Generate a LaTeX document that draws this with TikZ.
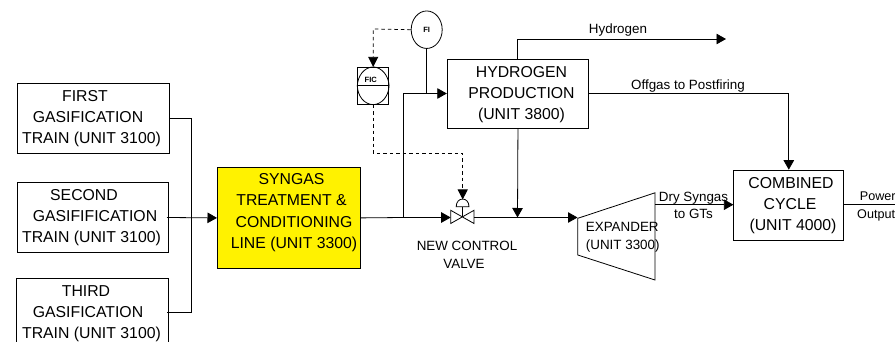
\documentclass[tikz,border=0pt]{standalone}
\usepackage{fontspec}
\setmainfont{Liberation Sans}
\usetikzlibrary{arrows.meta,shapes.geometric}
\newcommand\gapx[1]{\mbox{\kern#1pt}}
\tikzset{
  x=1pt,y=-1pt,
  ln/.style={draw=black,line width=0.8pt},
  flow/.style={ln,-{Triangle[length=9.5pt,width=10.5pt]}},
  ctl/.style={draw=black,line width=0.8pt,dash pattern=on 3.5pt off 3pt,-{Triangle[length=10pt,width=10pt]}},
  unitbox/.style={draw=black,line width=0.8pt,anchor=north west,inner sep=0pt},
  lbl/.style={font=\fontsize{15.8}{21.3}\selectfont,align=center,inner sep=0pt},
  small/.style={font=\fontsize{13.4}{17.6}\selectfont,align=center,inner sep=0pt},
  tiny/.style={font=\bfseries\fontsize{7.6}{8}\selectfont,inner sep=0pt},
}
\begin{document}
\begin{tikzpicture}
\useasboundingbox (0,0) rectangle (895,342);
% boxes
\node[unitbox,minimum width=152pt,minimum height=69.5pt] (b1) at (16.5,83.5) {};
\node[unitbox,minimum width=151.5pt,minimum height=69.5pt] (b2) at (16.5,182.5) {};
\coordinate (b3a) at (16.5,342); \coordinate (b3b) at (16.5,278); \coordinate (b3c) at (168,278); \coordinate (b3d) at (168,342);
\draw[ln] (b3a) -- (b3b) -- (b3c) -- (b3d);
\node[unitbox,fill=yellow,minimum width=143pt,minimum height=101pt] (syn) at (217,167) {};
\node[unitbox,minimum width=141.5pt,minimum height=69.5pt] (hyd) at (446.8,58.8) {};
\node[unitbox,minimum width=110pt,minimum height=70.6pt] (cc) at (733.4,169.7) {};
% expander
\coordinate (e1) at (577.8,218.3); \coordinate (e2) at (655,192.8); \coordinate (e3) at (655,280); \coordinate (e4) at (577.8,255);
\draw[ln] (e1) -- (e2) -- (e3) -- (e4) -- cycle;
% texts
\node[lbl] at (91.5,118.5) {FIRST\gapx{13}\\GASIFICATION\gapx{7}\\TRAIN (UNIT 3100)};
\node[lbl] at (91.5,217.5) {SECOND\gapx{15}\\\gapx{7}GASIFIFICATION\\TRAIN (UNIT 3100)};
\node[lbl] at (91.5,313.8) {THIRD\gapx{11}\\GASIFICATION\gapx{7}\\TRAIN (UNIT 3100)};
\node[lbl] at (294,212.5) {SYNGAS\gapx{5}\\TREATMENT \&\gapx{5}\\CONDITIONING\\LINE (UNIT 3300)};
\node[lbl] at (521.5,94.5) {HYDROGEN\\PRODUCTION\\(UNIT 3800)};
\node[lbl] at (791,205.5) {COMBINED\\CYCLE\gapx{2}\\\gapx{4}(UNIT 4000)};
\node[small,font=\fontsize{13.4}{18}\selectfont] at (467,255) {NEW CONTROL\\VALVE\gapx{6}};
\node[small,align=left,anchor=west] at (585.7,237.5) {EXPANDER\\(UNIT 3300)};
\node[small] at (693.5,205.5) {Dry Syngas\\to GTs};
\node[small] at (618,30.5) {Hydrogen};
\node[small] at (688,86.5) {Offgas to Postfiring};
\node[small,font=\fontsize{12.6}{17.6}\selectfont,align=left,anchor=west] at (857,206.5) {\gapx{2.7}Power\\Output};
% junctions
\coordinate (j2) at (403.3,217.5);
\coordinate (j3) at (517.5,217.5);
\coordinate (v) at (462.5,217.5);
\coordinate (j4) at (425.5,93.5);
% gasifier lines
\draw[ln] (b1.east) -| (191.5,312) -- (167,312);
\draw[flow] (167,217.5) -- (syn.west);
% main line
\draw[ln] (syn.east) -- (j2);
\draw[flow] (j2) -- (450.7,217.5);
\draw[flow] (j2) |- (hyd.west |- j4);
\draw[flow] (hyd.south) -- (j3);
\draw[flow] (474,217.5) -- (577.5,217.5);
\draw[flow] (655,204.7) -- (733.4,204.7);
\draw[ln] (843.4,204.7) -- (895,204.7);
% hydrogen outlets
\draw[flow] (517.5,58.8) |- (726,39);
\draw[flow] (588,93.7) -| (cc.north);
% instruments
\node[draw=black,line width=0.8pt,ellipse,minimum width=31pt,minimum height=37.5pt,inner sep=0pt,font=\bfseries\fontsize{7.6}{8}\selectfont] (fi) at (426.7,29.7) {FI};
\draw[ln] (fi.south) -- (fi.south |- j4);
\node[draw=black,line width=0.8pt,minimum width=31pt,minimum height=37pt,inner sep=0pt] (fic) at (373.2,85.8) {};
\draw[ln] (fic.north) .. controls (364,67.3) and (357.7,76) .. (fic.west) .. controls (357.7,96) and (364,104.3) .. (fic.south) .. controls (382,104.3) and (388.7,96) .. (fic.east) .. controls (388.7,76) and (382,67.3) .. (fic.north);
\draw[ln] (fic.west) -- (fic.east);
\node[tiny] at (370.8,80) {FIC};
\coordinate (cc1) at (373.2,29);
\draw[ctl] (fi.west) -- (cc1) -- (fic.north);
\coordinate (act) at (462.7,199.5);
\draw[ctl] (fic.south) |- (373.2,153) -| (act);
% valve
\draw[ln] (450.7,210.3) -- (474,223.5) -- (474,210.3) -- (450.7,223.5) -- cycle;
\draw[ln] (v) -- (462.5,206.7);
\draw[ln] (456.2,206.7) .. controls (456.2,196.5) and (469,196.5) .. (469,206.7) -- cycle;
\end{tikzpicture}
\end{document}
